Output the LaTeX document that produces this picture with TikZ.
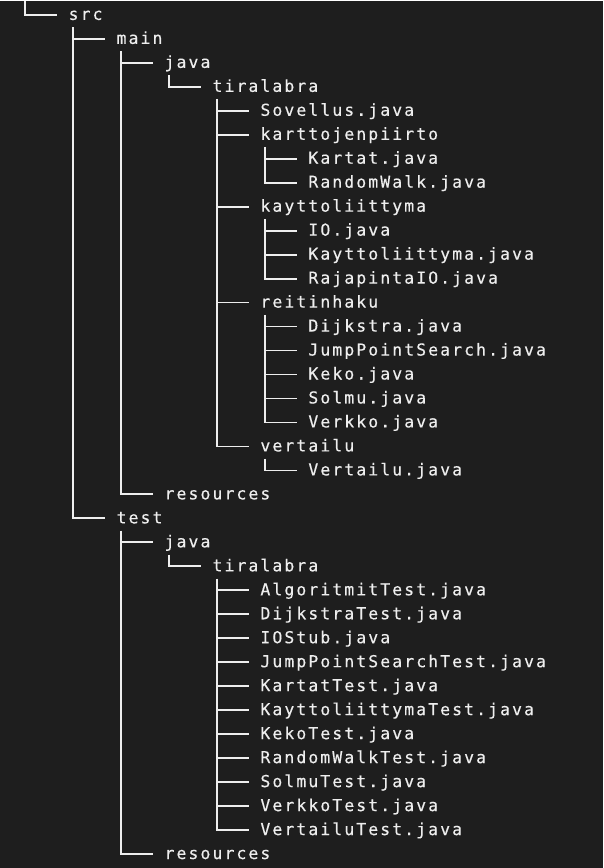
\documentclass[tikz,border=0pt]{standalone}
\usepackage{fontspec}
\setmonofont[LetterSpace=12.5,FakeBold=0.3]{DejaVu Sans Mono}
\definecolor{termbg}{HTML}{1E1E1E}
\definecolor{termfg}{HTML}{EEEEEE}

\begin{document}
\begin{tikzpicture}[x=1pt,y=-1pt,
	entry/.style={anchor=west,inner xsep=11.5pt,inner ysep=7pt,text height=10pt,text depth=0pt,text=termfg,font=\ttfamily\fontsize{16.5}{20}\selectfont},
	branch/.style={draw=termfg,line width=1.8pt}]
			\fill [termbg] (0,0) rectangle (604,868);
			\coordinate (top) at (25,0);
			% src
			\node [entry] (src) at (57,14) {src};
			\node [entry] (main) at (105,38) {main};
			\node [entry] (mjava) at (153,62) {java};
			\node [entry] (mtira) at (201,86) {tiralabra};
			\node [entry] (sov) at (249,110) {Sovellus.java};
			\node [entry] (kp) at (249,134) {karttojenpiirto};
			\node [entry] (kartat) at (297,158) {Kartat.java};
			\node [entry] (rw) at (297,182) {RandomWalk.java};
			\node [entry] (kl) at (249,206) {kayttoliittyma};
			\node [entry] (io) at (297,230) {IO.java};
			\node [entry] (klj) at (297,254) {Kayttoliittyma.java};
			\node [entry] (rio) at (297,278) {RajapintaIO.java};
			\node [entry] (rh) at (249,302) {reitinhaku};
			\node [entry] (dij) at (297,326) {Dijkstra.java};
			\node [entry] (jps) at (297,350) {JumpPointSearch.java};
			\node [entry] (keko) at (297,374) {Keko.java};
			\node [entry] (solmu) at (297,398) {Solmu.java};
			\node [entry] (verkko) at (297,422) {Verkko.java};
			\node [entry] (vert) at (249,446) {vertailu};
			\node [entry] (vertj) at (297,470) {Vertailu.java};
			\node [entry] (mres) at (153,494) {resources};
			% test
			\node [entry] (test) at (105,518) {test};
			\node [entry] (tjava) at (153,542) {java};
			\node [entry] (ttira) at (201,566) {tiralabra};
			\node [entry] (alg) at (249,590) {AlgoritmitTest.java};
			\node [entry] (dijt) at (249,614) {DijkstraTest.java};
			\node [entry] (iostub) at (249,638) {IOStub.java};
			\node [entry] (jpst) at (249,662) {JumpPointSearchTest.java};
			\node [entry] (kartt) at (249,686) {KartatTest.java};
			\node [entry] (klt) at (249,710) {KayttoliittymaTest.java};
			\node [entry] (kekot) at (249,734) {KekoTest.java};
			\node [entry] (rwt) at (249,758) {RandomWalkTest.java};
			\node [entry] (solt) at (249,782) {SolmuTest.java};
			\node [entry] (verkt) at (249,806) {VerkkoTest.java};
			\node [entry] (vertt) at (249,830) {VertailuTest.java};
			\node [entry] (tres) at (153,854) {resources};
			% branches
			\draw [branch] (top) |- (src.west);
			\draw [branch] ([xshift=16pt]src.south west) |- (main.west) ([xshift=16pt]src.south west) |- (test.west);
			\draw [branch] ([xshift=16pt]main.south west) |- (mjava.west) ([xshift=16pt]main.south west) |- (mres.west);
			\draw [branch] ([xshift=16pt]mjava.south west) |- (mtira.west);
			\draw [branch] ([xshift=16pt]mtira.south west) |- (sov.west) ([xshift=16pt]mtira.south west) |- (kp.west)
				([xshift=16pt]mtira.south west) |- (kl.west) ([xshift=16pt]mtira.south west) |- (rh.west)
				([xshift=16pt]mtira.south west) |- (vert.west);
			\draw [branch] ([xshift=16pt]kp.south west) |- (kartat.west) ([xshift=16pt]kp.south west) |- (rw.west);
			\draw [branch] ([xshift=16pt]kl.south west) |- (io.west) ([xshift=16pt]kl.south west) |- (klj.west)
				([xshift=16pt]kl.south west) |- (rio.west);
			\draw [branch] ([xshift=16pt]rh.south west) |- (dij.west) ([xshift=16pt]rh.south west) |- (jps.west)
				([xshift=16pt]rh.south west) |- (keko.west) ([xshift=16pt]rh.south west) |- (solmu.west)
				([xshift=16pt]rh.south west) |- (verkko.west);
			\draw [branch] ([xshift=16pt]vert.south west) |- (vertj.west);
			\draw [branch] ([xshift=16pt]test.south west) |- (tjava.west) ([xshift=16pt]test.south west) |- (tres.west);
			\draw [branch] ([xshift=16pt]tjava.south west) |- (ttira.west);
			\draw [branch] ([xshift=16pt]ttira.south west) |- (alg.west) ([xshift=16pt]ttira.south west) |- (dijt.west)
				([xshift=16pt]ttira.south west) |- (iostub.west) ([xshift=16pt]ttira.south west) |- (jpst.west)
				([xshift=16pt]ttira.south west) |- (kartt.west) ([xshift=16pt]ttira.south west) |- (klt.west)
				([xshift=16pt]ttira.south west) |- (kekot.west) ([xshift=16pt]ttira.south west) |- (rwt.west)
				([xshift=16pt]ttira.south west) |- (solt.west) ([xshift=16pt]ttira.south west) |- (verkt.west)
				([xshift=16pt]ttira.south west) |- (vertt.west);
			\useasboundingbox (0,0) rectangle (604,868);
			\end{tikzpicture}
\end{document}
